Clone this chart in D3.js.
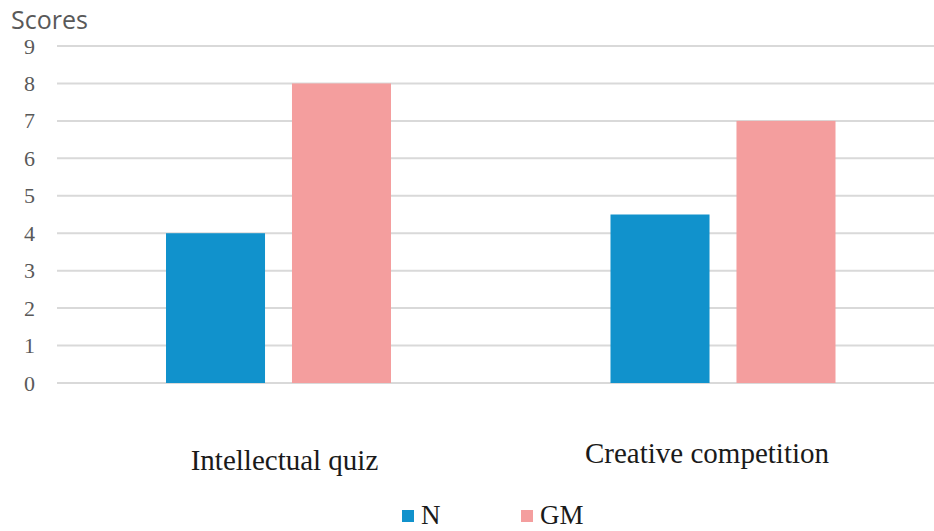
<!DOCTYPE html>
<html>
<head>
<meta charset="utf-8">
<script src="https://cdn.jsdelivr.net/npm/d3@7/dist/d3.min.js"></script>
<style>
  html, body { margin: 0; padding: 0; background: #fff; }
  svg { display: block; }
</style>
</head>
<body>
<svg id="chart" width="934" height="531"></svg>
<script>
// Scores per activity for the two groups
const categories = ["Intellectual quiz", "Creative competition"];
const seriesNames = ["N", "GM"];
const valuesN = [4, 4.5];
const valuesGM = [8, 7];
const yTicks = [0, 1, 2, 3, 4, 5, 6, 7, 8, 9];
const colors = { N: "#1192cc", GM: "#f49e9e" };

const svg = d3.select("#chart");
const W = 934, H = 531;

const y = d3.scaleLinear().domain([0, 9]).range([383, 46]);
const x0 = d3.scaleBand().domain(categories).range([56.25, 945.25]).padding(0);
const groupW = 225;
const x1 = d3.scaleBand().domain(seriesNames).range([0, groupW]).paddingInner(0.214).paddingOuter(0);

// horizontal gridlines
svg.append("g").selectAll("line").data(yTicks).join("line")
  .attr("x1", 57).attr("x2", W)
  .attr("y1", d => y(d)).attr("y2", d => y(d))
  .attr("stroke", "#d9d9d9").attr("stroke-width", 2);

// y tick labels
svg.append("g").selectAll("text").data(yTicks).join("text")
  .attr("x", 35).attr("y", d => y(d) + 7.5)
  .attr("text-anchor", "end")
  .attr("font-family", "'Liberation Serif', 'Times New Roman', serif")
  .attr("font-size", 22).attr("fill", "#595959")
  .text(d => d);

// axis title
svg.append("text").attr("x", 11).attr("y", 29)
  .attr("font-family", "'Open Sans', 'Noto Sans', sans-serif")
  .attr("font-size", 25).attr("fill", "#595959")
  .text("Scores");

// bars
const rows = categories.map((c, i) => ({ cat: c, N: valuesN[i], GM: valuesGM[i] }));
const groups = svg.append("g").selectAll("g").data(rows).join("g")
  .attr("transform", d => `translate(${x0(d.cat) + (x0.bandwidth() - groupW) / 2},0)`);
groups.selectAll("rect")
  .data(d => seriesNames.map(s => ({ s, v: d[s] })))
  .join("rect")
  .attr("x", d => x1(d.s))
  .attr("width", x1.bandwidth())
  .attr("y", d => y(d.v))
  .attr("height", d => y(0) - y(d.v))
  .attr("fill", d => colors[d.s]);

// category labels
const catLabelPos = [{ dx: 6, y: 470 }, { dx: -16, y: 463 }];
svg.append("g").selectAll("text").data(categories).join("text")
  .attr("x", (d, i) => x0(d) + x0.bandwidth() / 2 + catLabelPos[i].dx)
  .attr("y", (d, i) => catLabelPos[i].y)
  .attr("text-anchor", "middle")
  .attr("font-family", "'Liberation Serif', 'Times New Roman', serif")
  .attr("font-size", 29).attr("fill", "#1a1a1a")
  .text(d => d);

// legend
const legendX = [402, 521];
const leg = svg.append("g").selectAll("g").data(seriesNames).join("g")
  .attr("transform", (d, i) => `translate(${legendX[i]},0)`);
leg.append("rect").attr("x", 0).attr("y", 510).attr("width", 12).attr("height", 12)
  .attr("fill", d => colors[d]);
leg.append("text").attr("x", 19).attr("y", 524)
  .attr("font-family", "'Liberation Serif', 'Times New Roman', serif")
  .attr("font-size", 27).attr("fill", "#1a1a1a")
  .text(d => d);
</script>
</body>
</html>
